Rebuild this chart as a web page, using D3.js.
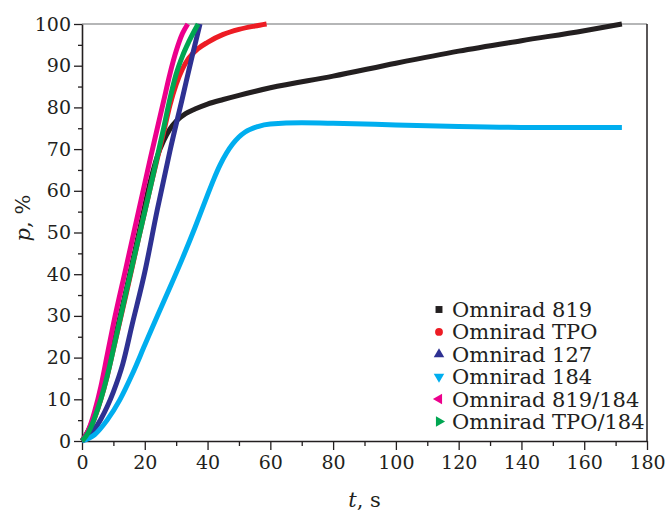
<!DOCTYPE html>
<html>
<head>
<meta charset="utf-8">
<script src="https://cdn.jsdelivr.net/npm/d3@7"></script>
<style>
  body { margin: 0; background: #fff; }
  svg text { font-family: "DejaVu Serif", serif; fill: #231f20; }
</style>
</head>
<body>
<svg id="chart" width="670" height="513"></svg>
<script>
// series names and colours (legend order = drawing order)
var seriesNames = ["Omnirad 819", "Omnirad TPO", "Omnirad 127", "Omnirad 184", "Omnirad 819/184", "Omnirad TPO/184"];
var seriesColors = ["#231f20", "#ed1c24", "#2e3192", "#00aeef", "#ec008c", "#00a651"];

// time, s  /  conversion p, %
var t819 = [0, 2, 4, 6, 8, 10, 14, 18, 22, 24, 26, 28, 30, 33, 36, 40, 45, 50, 60, 80, 100, 120, 140, 160, 172];
var p819 = [0, 2.5, 6, 11, 16.5, 23, 36, 49.5, 63, 68.3, 72, 74.8, 76.7, 78.5, 79.6, 80.8, 81.9, 82.9, 84.7, 87.5, 90.6, 93.5, 96, 98.4, 100];

var tTPO = [0, 2, 4, 6, 8, 10, 14, 18, 22, 26, 28, 30, 32, 34, 37, 40, 45, 50, 55, 58.8];
var pTPO = [0, 2, 5.5, 10, 15.5, 22, 35, 48.5, 61.5, 74, 80.5, 85.5, 89.2, 91.8, 94.1, 95.6, 97.5, 98.7, 99.5, 100];

var t127 = [0, 2, 4, 6, 8, 10, 13, 16, 20, 24, 28, 32, 35, 37.6];
var p127 = [0, 1, 2.8, 5.2, 8.2, 11.8, 18.5, 28, 40.5, 55.5, 69.5, 82.3, 92, 100];

var t184 = [0, 4, 8, 12, 16, 20, 24, 28, 32, 36, 40, 42, 44, 46, 48, 50, 52, 56, 60, 70, 80, 100, 120, 140, 172];
var p184 = [0, 1.5, 5, 9.8, 16, 23, 30, 36.8, 43.8, 51.2, 59, 62.8, 66.2, 69, 71.2, 72.9, 74.1, 75.4, 76, 76.3, 76.2, 75.8, 75.4, 75.2, 75.2];

var t819_184 = [0, 2, 4, 6, 8, 10, 14, 18, 22, 26, 28, 30, 32, 33.7];
var p819_184 = [0, 2.5, 7, 13, 20.5, 28, 41.5, 55, 68.5, 81.5, 88, 93.5, 97.7, 100];

var tTPO_184 = [0, 2, 4, 6, 8, 10, 14, 18, 22, 26, 28, 30, 32, 34, 37];
var pTPO_184 = [0, 2, 5.5, 10, 15.5, 22, 35.5, 48.5, 61.5, 75, 82, 88, 92.3, 95.7, 100];

var xTicks = [0, 20, 40, 60, 80, 100, 120, 140, 160, 180];
var yTicks = [0, 10, 20, 30, 40, 50, 60, 70, 80, 90, 100];

var seriesT = [t819, tTPO, t127, t184, t819_184, tTPO_184];
var seriesP = [p819, pTPO, p127, p184, p819_184, pTPO_184];

var margin = { top: 24, right: 23, bottom: 72, left: 82 };
var svg = d3.select("#chart");
var width = 670, height = 513;

var x = d3.scaleLinear().domain([0, 180]).range([margin.left, width - margin.right]);
var y = d3.scaleLinear().domain([0, 100]).range([height - margin.bottom, margin.top]);

// frame: top (grey) and right
svg.append("line")
  .attr("x1", x(0)).attr("x2", x(180))
  .attr("y1", y(100)).attr("y2", y(100))
  .attr("stroke", "#6d6e71").attr("stroke-width", 1.2);
svg.append("line")
  .attr("x1", x(180)).attr("x2", x(180))
  .attr("y1", y(100)).attr("y2", y(0))
  .attr("stroke", "#231f20").attr("stroke-width", 1.5);

// minor ticks
svg.append("g")
  .attr("transform", `translate(0,${y(0)})`)
  .call(d3.axisBottom(x).tickValues(d3.range(10, 180, 20)).tickSize(5).tickFormat(""))
  .call(g => g.select(".domain").remove());
svg.append("g")
  .attr("transform", `translate(${x(0)},0)`)
  .call(d3.axisLeft(y).tickValues(d3.range(5, 100, 10)).tickSize(4).tickFormat(""))
  .call(g => g.select(".domain").remove());

// major axes
svg.append("g")
  .attr("transform", `translate(0,${y(0)})`)
  .call(d3.axisBottom(x).tickValues(xTicks).tickSize(9).tickPadding(6).tickSizeOuter(0));
svg.append("g")
  .attr("transform", `translate(${x(0)},0)`)
  .call(d3.axisLeft(y).tickValues(yTicks).tickSize(8).tickPadding(3).tickSizeOuter(0));

svg.selectAll(".tick line").attr("stroke", "#231f20").attr("stroke-width", 1.3);
svg.selectAll(".domain").attr("stroke", "#231f20").attr("stroke-width", 1.6);
svg.selectAll(".tick text").style("font-size", "19px").style("font-family", "DejaVu Serif").attr("fill", "#231f20");

// curves
var line = d3.line()
  .x(d => x(d[0]))
  .y(d => y(d[1]))
  .curve(d3.curveMonotoneX);

seriesNames.forEach((name, i) => {
  var pts = seriesT[i].map((t, j) => [t, seriesP[i][j]]);
  svg.append("path")
    .datum(pts)
    .attr("fill", "none")
    .attr("stroke", seriesColors[i])
    .attr("stroke-width", 5)
    .attr("stroke-linejoin", "round")
    .attr("d", line);
});

// legend
var symbols = [
  { type: d3.symbolSquare, rot: 0 },
  { type: d3.symbolCircle, rot: 0 },
  { type: d3.symbolTriangle, rot: 0 },
  { type: d3.symbolTriangle, rot: 180 },
  { type: d3.symbolTriangle, rot: -90 },
  { type: d3.symbolTriangle, rot: 90 }
];
var legend = svg.append("g");
seriesNames.forEach((name, i) => {
  var cy = 309.5 + i * 22.4;
  legend.append("path")
    .attr("d", d3.symbol().type(symbols[i].type).size(48)())
    .attr("transform", `translate(439,${cy}) rotate(${symbols[i].rot})`)
    .attr("fill", seriesColors[i]);
  legend.append("text")
    .attr("x", 452)
    .attr("y", cy)
    .attr("dy", "0.36em")
    .style("font-size", "21px")
    .text(name);
});

// axis titles
var xt = svg.append("text")
  .attr("x", (x(0) + x(180)) / 2)
  .attr("y", 507)
  .attr("text-anchor", "middle")
  .style("font-size", "21px");
xt.append("tspan").style("font-style", "italic").text("t");
xt.append("tspan").text(", s");

var yt = svg.append("text")
  .attr("transform", "translate(30,218) rotate(-90)")
  .attr("text-anchor", "middle")
  .style("font-size", "21px");
yt.append("tspan").style("font-style", "italic").text("p");
yt.append("tspan").text(", %");
</script>
</body>
</html>
